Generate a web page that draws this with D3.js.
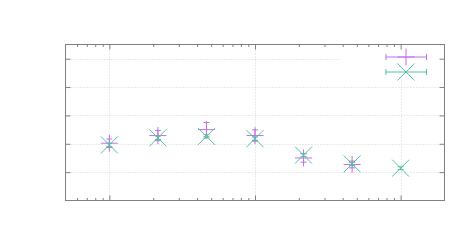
<!DOCTYPE html>
<html lang="en">
<head>
    <meta charset="UTF-8">
    <title>Log-x error bar chart</title>
    <script src="https://d3js.org/d3.v7.min.js"></script>
    <style>
        body { margin: 0; background: #fff; }
    </style>
</head>
<body>
    <div id="my_dataviz"></div>

    <script>
        // data
        var xValues = [1, 2.154, 4.642, 10, 21.54, 46.42, 100];
        var purpleY = [2.02, 2.29, 2.50, 2.29, 1.50, 1.27, null];
        var purpleErr = [0.15, 0.18, 0.25, 0.20, 0.15, 0.12, null];
        var greenY = [1.96, 2.21, 2.26, 2.18, 1.60, 1.29, 1.14];
        var greenErr = [0.06, 0.06, 0.06, 0.06, 0.05, 0.05, 0.05];
        var yTicks = [1, 2, 3, 4, 5];

        var W = 472, H = 250;
        // note: "top" is a reserved window property, so use plot* names
        var plotLeft = 65.5, plotRight = 444.5, plotTop = 44.5, plotBottom = 200.5;

        var purple = "#c270e8";
        var green = "#55c2a2";
        var frameColor = "#808080";
        var gridColor = "#d4d4d4";

        var svg = d3.select("#my_dataviz")
            .append("svg")
            .attr("width", W)
            .attr("height", H);

        var x = d3.scaleLog().domain([0.5, 200]).range([plotLeft, plotRight]);
        var y = d3.scaleLinear().domain([0, 5.5]).range([plotBottom, plotTop]);

        var allTicks = x.ticks().filter(function(t) { return t > 0.5 && t < 200; });
        var majorX = allTicks.filter(function(t) { return Math.abs(Math.log10(t) - Math.round(Math.log10(t))) < 1e-9; });
        var minorX = allTicks.filter(function(t) { return majorX.indexOf(t) < 0; });

        // grid
        var grid = svg.append("g")
            .attr("stroke", gridColor)
            .attr("stroke-width", 1)
            .attr("stroke-dasharray", "1,2");
        grid.selectAll(".gy").data(yTicks).enter().append("line")
            .attr("x1", plotLeft).attr("x2", plotRight)
            .attr("y1", function(d) { return Math.round(y(d)) + 0.5; })
            .attr("y2", function(d) { return Math.round(y(d)) + 0.5; });
        grid.selectAll(".gx").data(majorX).enter().append("line")
            .attr("y1", plotTop).attr("y2", plotBottom)
            .attr("x1", function(d) { return Math.round(x(d)) + 0.5; })
            .attr("x2", function(d) { return Math.round(x(d)) + 0.5; });

        // opaque key box
        svg.append("rect")
            .attr("x", 339).attr("y", 45)
            .attr("width", 104).attr("height", 34)
            .attr("fill", "#fff");

        // ticks on all four sides
        function tickAxis(axis, tx, ty) {
            var g = svg.append("g")
                .attr("transform", "translate(" + tx + "," + ty + ")")
                .call(axis.tickFormat(""));
            g.select(".domain").remove();
            g.selectAll("line").attr("stroke", frameColor);
        }
        tickAxis(d3.axisBottom(x).tickValues(majorX).tickSize(-5).tickSizeOuter(0), 0, plotBottom);
        tickAxis(d3.axisBottom(x).tickValues(minorX).tickSize(-2.5).tickSizeOuter(0), 0, plotBottom);
        tickAxis(d3.axisTop(x).tickValues(majorX).tickSize(-5).tickSizeOuter(0), 0, plotTop);
        tickAxis(d3.axisTop(x).tickValues(minorX).tickSize(-2.5).tickSizeOuter(0), 0, plotTop);
        tickAxis(d3.axisLeft(y).tickValues(yTicks).tickSize(-5).tickSizeOuter(0), plotLeft, 0);
        tickAxis(d3.axisRight(y).tickValues(yTicks).tickSize(-5).tickSizeOuter(0), plotRight, 0);

        // frame
        svg.append("rect")
            .attr("x", plotLeft).attr("y", plotTop)
            .attr("width", plotRight - plotLeft).attr("height", plotBottom - plotTop)
            .attr("fill", "none")
            .attr("stroke", frameColor)
            .attr("stroke-width", 1);

        var cap = 3, ps = 8.5;

        function drawPlus(g, cx, cy, color) {
            g.append("line").attr("x1", cx - ps).attr("x2", cx + ps).attr("y1", cy).attr("y2", cy).attr("stroke", color);
            g.append("line").attr("x1", cx).attr("x2", cx).attr("y1", cy - ps).attr("y2", cy + ps).attr("stroke", color);
        }
        function drawCross(g, cx, cy, color) {
            g.append("line").attr("x1", cx - ps).attr("x2", cx + ps).attr("y1", cy - ps).attr("y2", cy + ps).attr("stroke", color);
            g.append("line").attr("x1", cx - ps).attr("x2", cx + ps).attr("y1", cy + ps).attr("y2", cy - ps).attr("stroke", color);
        }

        function drawSeries(vals, errs, color, symbol) {
            var g = svg.append("g").attr("stroke-width", 1);
            xValues.forEach(function(xv, i) {
                if (vals[i] == null) return;
                var cx = x(xv), cy = y(vals[i]);
                var y0 = y(vals[i] - errs[i]), y1 = y(vals[i] + errs[i]);
                g.append("line").attr("x1", cx).attr("x2", cx).attr("y1", y0).attr("y2", y1).attr("stroke", color);
                g.append("line").attr("x1", cx - cap).attr("x2", cx + cap).attr("y1", y0).attr("y2", y0).attr("stroke", color);
                g.append("line").attr("x1", cx - cap).attr("x2", cx + cap).attr("y1", y1).attr("y2", y1).attr("stroke", color);
                symbol(g, cx, cy, color);
            });
        }
        drawSeries(purpleY, purpleErr, purple, drawPlus);
        drawSeries(greenY, greenErr, green, drawCross);

        // key samples (no titles)
        function keySample(ky, color, symbol) {
            var g = svg.append("g").attr("stroke-width", 1);
            var kx0 = 386, kx1 = 426.5, kc = 406;
            g.append("line").attr("x1", kx0).attr("x2", kx1).attr("y1", ky).attr("y2", ky).attr("stroke", color);
            g.append("line").attr("x1", kx0).attr("x2", kx0).attr("y1", ky - cap).attr("y2", ky + cap).attr("stroke", color);
            g.append("line").attr("x1", kx1).attr("x2", kx1).attr("y1", ky - cap).attr("y2", ky + cap).attr("stroke", color);
            symbol(g, kc, ky, color);
        }
        keySample(57, purple, drawPlus);
        keySample(72, green, drawCross);
    </script>
</body>
</html>
